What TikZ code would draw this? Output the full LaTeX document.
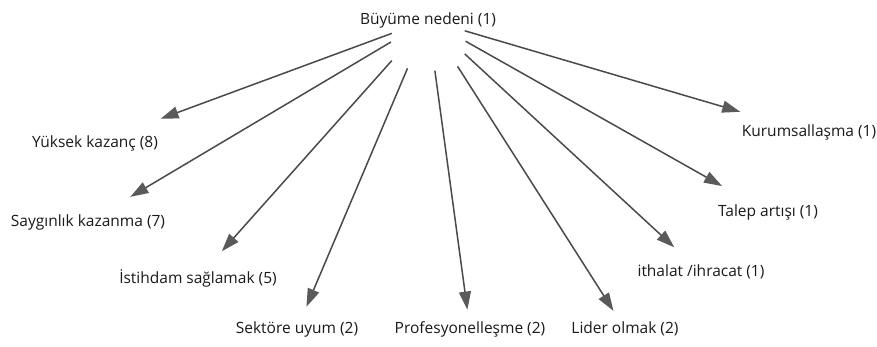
\documentclass[tikz,border=0pt]{standalone}
\usepackage{fontspec}
\setmainfont{Open Sans}
\usetikzlibrary{arrows.meta}
\definecolor{txt}{HTML}{1A1A1A}
\definecolor{ln}{HTML}{4A4A4A}
\definecolor{hd}{HTML}{5A5A5A}
\tikzset{
  lbl/.style={font=\fontsize{15.5}{18}\selectfont, text=txt, inner sep=0pt},
  arr/.style={draw=ln, line width=1.5pt, -{Triangle[length=18pt,width=12pt,color=hd]}}
}
\begin{document}
\begin{tikzpicture}[x=1pt,y=-1pt]
\useasboundingbox[fill=white] (0,0) rectangle (877,347);
\node[lbl] (top) at (428,20) {Büyüme nedeni (1)};
\node[lbl] (yuk) at (95,143) {Yüksek kazanç (8)};
\node[lbl] (say) at (88,222) {Saygınlık kazanma (7)};
\node[lbl] (ist) at (198,278) {İstihdam sağlamak (5)};
\node[lbl] (sek) at (297,329) {Sektöre uyum (2)};
\node[lbl] (pro) at (470,329) {Profesyonelleşme (2)};
\node[lbl] (lid) at (625,329) {Lider olmak (2)};
\node[lbl] (ith) at (701,272) {ithalat /ihracat (1)};
\node[lbl] (tal) at (768,212) {Talep artışı (1)};
\node[lbl] (kur) at (809,132) {Kurumsallaşma (1)};
\draw[arr, shorten <=38.6pt, shorten >=69.9pt] (top.center) -- (yuk.center);
\draw[arr, shorten <=43.1pt, shorten >=49.3pt] (top.center) -- (say.center);
\draw[arr, shorten <=54.4pt, shorten >=35.8pt] (top.center) -- (ist.center);
\draw[arr, shorten <=52.5pt, shorten >=24.2pt] (top.center) -- (sek.center);
\draw[arr, shorten <=51.2pt, shorten >=19.6pt] (top.center) -- (pro.center);
\draw[arr, shorten <=55.0pt, shorten >=21.5pt] (top.center) -- (lid.center);
\draw[arr, shorten <=50.0pt, shorten >=36.4pt] (top.center) -- (ith.center);
\draw[arr, shorten <=43.1pt, shorten >=52.8pt] (top.center) -- (tal.center);
\draw[arr, shorten <=38.3pt, shorten >=71.7pt] (top.center) -- (kur.center);
\end{tikzpicture}
\end{document}
